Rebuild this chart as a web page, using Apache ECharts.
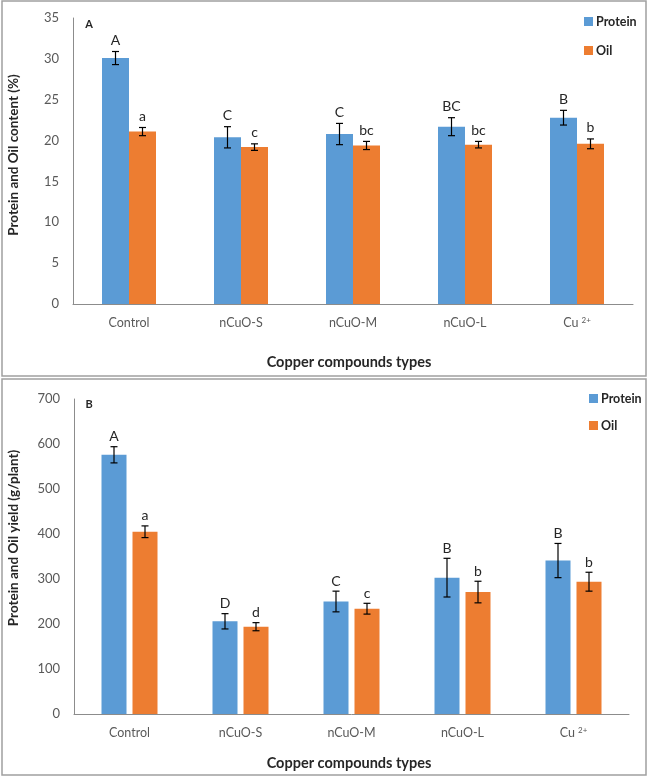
<!DOCTYPE html>
<html><head><meta charset="utf-8">
<script src="https://cdn.jsdelivr.net/npm/echarts@6/dist/echarts.min.js"></script>
<style>html,body{margin:0;padding:0;background:#fff}#c{width:649px;height:777px}</style>
</head><body><div id="c"></div>
<script>
const categories = ['Control', 'nCuO-S', 'nCuO-M', 'nCuO-L', 'Cu2+'];
const seriesNames = ['Protein', 'Oil'];
// Panel A: content (%)
const proteinContent = [30.1, 20.4, 20.8, 21.7, 22.8];
const proteinContentErr = [0.8, 1.3, 1.3, 1.1, 0.9];
const proteinContentLetters = ['A', 'C', 'C', 'BC', 'B'];
const oilContent = [21.1, 19.2, 19.4, 19.5, 19.6];
const oilContentErr = [0.5, 0.4, 0.5, 0.4, 0.6];
const oilContentLetters = ['a', 'c', 'bc', 'bc', 'b'];
const yTicksA = [0, 35, 5];
// Panel B: yield (g/plant)
const proteinYield = [576, 206, 250, 303, 341];
const proteinYieldErr = [18, 17, 23, 43, 38];
const proteinYieldLetters = ['A', 'D', 'C', 'B', 'B'];
const oilYield = [405, 194, 234, 271, 294];
const oilYieldErr = [13, 9, 12, 24, 21];
const oilYieldLetters = ['a', 'd', 'c', 'b', 'b'];
const yTicksB = [0, 700, 100];

const FONT = 'Lato, "Open Sans", sans-serif';
const BLUE = '#5B9BD5', ORANGE = '#ED7D31';

function errRender(vals, errs, letters, offset, gap) {
  return function (params, api) {
    const i = api.value(0);
    const v = vals[i], e = errs[i];
    const c = api.coord([i, v]);
    const t = api.coord([i, v + e]);
    const b = api.coord([i, v - e]);
    const x = c[0] + offset;
    const cap = 3.5;
    const st = { stroke: '#000', lineWidth: 1.2 };
    return {
      type: 'group', children: [
        { type: 'line', shape: { x1: x, y1: t[1], x2: x, y2: b[1] }, style: st },
        { type: 'line', shape: { x1: x - cap, y1: t[1], x2: x + cap, y2: t[1] }, style: st },
        { type: 'line', shape: { x1: x - cap, y1: b[1], x2: x + cap, y2: b[1] }, style: st },
        { type: 'text', x: x, y: t[1] - gap, style: { text: letters[i], align: 'center', verticalAlign: 'middle', fontSize: 14, fontFamily: FONT, fill: '#262626' } }
      ]
    };
  };
}
const idxData = categories.map((c, i) => [i, 0]);

const xAxisCommon = {
  type: 'category', data: categories,
  axisTick: { show: false },
  axisLine: { lineStyle: { color: '#8c8c8c', width: 1 } },
  axisLabel: {
    color: '#595959', fontSize: 12.5, fontFamily: FONT, margin: 12,
    formatter: v => v === 'Cu2+' ? 'Cu {sup|2+}' : v,
    rich: { sup: { fontSize: 8, fontFamily: FONT, color: '#595959', padding: [0, 0, 6, 0] } }
  }
};
const yAxisCommon = {
  type: 'value', splitLine: { show: false },
  axisLine: { show: true, lineStyle: { color: '#8c8c8c', width: 1 } },
  axisTick: { show: false },
  axisLabel: { color: '#595959', fontSize: 13, fontFamily: FONT, margin: 14 }
};

const option = {
  animation: false,
  grid: [
    { left: 73, right: 16, top: 18, height: 286 },
    { left: 74, right: 20, top: 399, height: 315 }
  ],
  xAxis: [
    Object.assign({ gridIndex: 0 }, xAxisCommon),
    Object.assign({ gridIndex: 1 }, xAxisCommon)
  ],
  yAxis: [
    Object.assign({ gridIndex: 0, min: yTicksA[0], max: yTicksA[1], interval: yTicksA[2] }, yAxisCommon),
    Object.assign({ gridIndex: 1, min: yTicksB[0], max: yTicksB[1], interval: yTicksB[2] }, yAxisCommon)
  ],
  legend: [
    { data: seriesNames, orient: 'vertical', left: 579, top: 10, itemGap: 16, itemWidth: 9, itemHeight: 9, icon: 'rect',
      textStyle: { fontSize: 12.5, fontWeight: 'bold', fontFamily: FONT, color: '#262626', padding: [0, 0, 0, -2] } },
    { data: seriesNames, orient: 'vertical', left: 584, top: 387, itemGap: 14, itemWidth: 9, itemHeight: 9, icon: 'rect',
      textStyle: { fontSize: 12.5, fontWeight: 'bold', fontFamily: FONT, color: '#262626', padding: [0, 0, 0, -2] } }
  ],
  series: [
    { name: 'Protein', type: 'bar', xAxisIndex: 0, yAxisIndex: 0, data: proteinContent, barWidth: 27, barGap: '0%', itemStyle: { color: BLUE } },
    { name: 'Oil', type: 'bar', xAxisIndex: 0, yAxisIndex: 0, data: oilContent, barWidth: 27, barGap: '0%', itemStyle: { color: ORANGE } },
    { name: 'Protein', type: 'bar', xAxisIndex: 1, yAxisIndex: 1, data: proteinYield, barWidth: 25, barGap: '24%', itemStyle: { color: BLUE } },
    { name: 'Oil', type: 'bar', xAxisIndex: 1, yAxisIndex: 1, data: oilYield, barWidth: 25, barGap: '24%', itemStyle: { color: ORANGE } },
    { type: 'custom', xAxisIndex: 0, yAxisIndex: 0, data: idxData, encode: { x: 0, y: 1 }, z: 5, renderItem: errRender(proteinContent, proteinContentErr, proteinContentLetters, -13.5, 11) },
    { type: 'custom', xAxisIndex: 0, yAxisIndex: 0, data: idxData, encode: { x: 0, y: 1 }, z: 5, renderItem: errRender(oilContent, oilContentErr, oilContentLetters, 13.5, 11) },
    { type: 'custom', xAxisIndex: 1, yAxisIndex: 1, data: idxData, encode: { x: 0, y: 1 }, z: 5, renderItem: errRender(proteinYield, proteinYieldErr, proteinYieldLetters, -15.5, 10) },
    { type: 'custom', xAxisIndex: 1, yAxisIndex: 1, data: idxData, encode: { x: 0, y: 1 }, z: 5, renderItem: errRender(oilYield, oilYieldErr, oilYieldLetters, 15.5, 10) }
  ],
  graphic: [
    { type: 'rect', shape: { x: 2, y: 1, width: 644, height: 375 }, style: { fill: 'none', stroke: '#a0a0a0', lineWidth: 1.5 }, silent: true },
    { type: 'rect', shape: { x: 2, y: 379, width: 644, height: 396 }, style: { fill: 'none', stroke: '#a0a0a0', lineWidth: 1.5 }, silent: true },
    { type: 'text', x: 89, y: 24, style: { text: 'A', fontSize: 11, fontWeight: 'bold', fontFamily: FONT, fill: '#262626', align: 'center', verticalAlign: 'middle' } },
    { type: 'text', x: 89, y: 404, style: { text: 'B', fontSize: 11, fontWeight: 'bold', fontFamily: FONT, fill: '#262626', align: 'center', verticalAlign: 'middle' } },
    { type: 'text', x: 349, y: 362, style: { text: 'Copper compounds types', fontSize: 14.5, fontWeight: 'bold', fontFamily: FONT, fill: '#262626', align: 'center', verticalAlign: 'middle' } },
    { type: 'text', x: 349, y: 763, style: { text: 'Copper compounds types', fontSize: 14.5, fontWeight: 'bold', fontFamily: FONT, fill: '#262626', align: 'center', verticalAlign: 'middle' } },
    { type: 'text', x: 14, y: 155, rotation: Math.PI / 2, style: { text: 'Protein and Oil content (%)', fontSize: 13.5, fontWeight: 'bold', fontFamily: FONT, fill: '#262626', align: 'center', verticalAlign: 'middle' } },
    { type: 'text', x: 14, y: 538, rotation: Math.PI / 2, style: { text: 'Protein and Oil yield (g/plant)', fontSize: 13.5, fontWeight: 'bold', fontFamily: FONT, fill: '#262626', align: 'center', verticalAlign: 'middle' } }
  ]
};
const chart = echarts.init(document.getElementById('c'), null, { renderer: 'canvas' });
chart.setOption(option);
</script></body></html>
